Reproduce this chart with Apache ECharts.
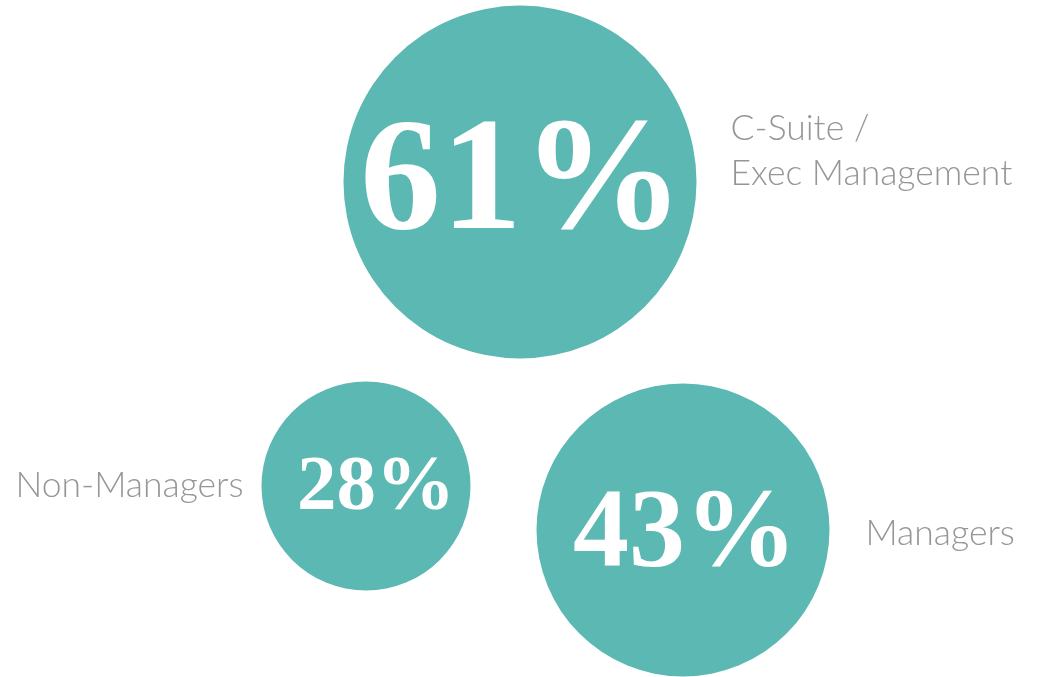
<!DOCTYPE html>
<html>
<head>
<meta charset="utf-8">
<script src="https://cdn.jsdelivr.net/npm/echarts@6/dist/echarts.min.js"></script>
<style>
  html, body { margin: 0; padding: 0; background: #ffffff; }
  #chart { width: 1043px; height: 677px; }
</style>
</head>
<body>
<div id="chart"></div>
<script>
// Share of respondents by role
const categories = ['C-Suite /\nExec Management', 'Non-Managers', 'Managers'];
const shares = [61, 28, 43];

// Bubble arrangement on the page (centre in px, diameter in px)
const layout = [
  { x: 520, y: 182, d: 353, font: 162, side: 'right', dist: 34, off: [0, -31], textOff: [2, 4] },
  { x: 366, y: 486, d: 209, font: 79,  side: 'left',  dist: 18, off: [0, 0],   textOff: [10, 3] },
  { x: 683, y: 530, d: 293, font: 112, side: 'right', dist: 36, off: [0, 4],   textOff: [2, 7] }
];

const teal = '#5cb8b2';
const grey = '#7c7c7c';

const bubbles = shares.map((v, i) => ({
  name: categories[i],
  value: [layout[i].x, layout[i].y, v],
  symbolSize: layout[i].d,
  label: {
    fontSize: layout[i].font,
    offset: layout[i].textOff
  }
}));

const captions = shares.map((v, i) => ({
  name: categories[i],
  value: [layout[i].x, layout[i].y, v],
  symbolSize: layout[i].d,
  label: {
    position: layout[i].side,
    distance: layout[i].dist,
    offset: layout[i].off
  }
}));

const chart = echarts.init(document.getElementById('chart'), null, { renderer: 'canvas' });
chart.setOption({
  animation: false,
  backgroundColor: '#ffffff',
  grid: { left: 0, right: 0, top: 0, bottom: 0 },
  xAxis: { type: 'value', min: 0, max: 1043, show: false },
  yAxis: { type: 'value', min: 0, max: 677, inverse: true, show: false },
  series: [
    {
      type: 'scatter',
      symbol: 'circle',
      data: bubbles,
      itemStyle: { color: teal, opacity: 1 },
      label: {
        show: true,
        position: 'inside',
        formatter: p => p.value[2] + '%',
        color: '#ffffff',
        fontFamily: '"Liberation Serif", "DejaVu Serif", serif',
        fontWeight: 'bold'
      },
      emphasis: { disabled: true },
      z: 2
    },
    {
      type: 'scatter',
      symbol: 'circle',
      data: captions,
      itemStyle: { color: 'rgba(0,0,0,0)' },
      label: {
        show: true,
        formatter: p => p.name,
        color: grey,
        fontFamily: 'Lato, "Open Sans", sans-serif',
        fontWeight: 300,
        fontSize: 35.5,
        lineHeight: 45
      },
      emphasis: { disabled: true },
      silent: true,
      z: 3
    }
  ]
});
</script>
</body>
</html>
